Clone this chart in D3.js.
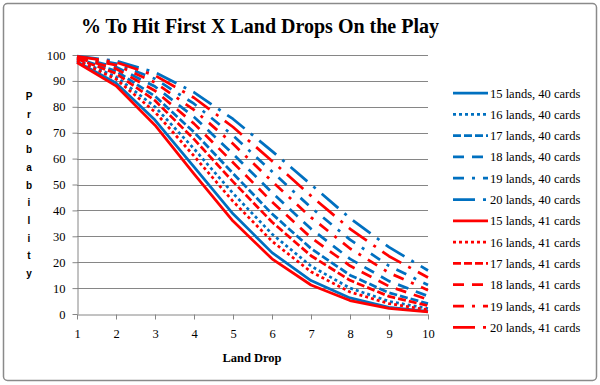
<!DOCTYPE html>
<html>
<head>
<meta charset="utf-8">
<script src="https://cdnjs.cloudflare.com/ajax/libs/d3/7.8.5/d3.min.js"></script>
<title>% To Hit First X Land Drops On the Play</title>
<style>
  body { margin: 0; background: #fff; }
  svg { display: block; }
  .serif { font-family: "Liberation Serif", Tinos, "Times New Roman", "DejaVu Serif", serif; }
  .axis text { font-family: "Liberation Serif", Tinos, "Times New Roman", "DejaVu Serif", serif; font-size: 12.5px; fill: #000; }
  .axis line, .axis path { stroke: #868686; }
  .legend text { font-family: "Liberation Serif", Tinos, "Times New Roman", "DejaVu Serif", serif; font-size: 12.5px; fill: #000; }
</style>
</head>
<body>
<script>
// categories + tick labels
var landDrops = [1, 2, 3, 4, 5, 6, 7, 8, 9, 10];
var yTicks = [0, 10, 20, 30, 40, 50, 60, 70, 80, 90, 100];

// % chance
var lands15of40 = [97.4, 89.2, 74.9, 56.8, 38.7, 23.7, 12.9, 6.2, 2.6, 1.0];
var lands16of40 = [98.1, 91.6, 80.0, 63.8, 46.6, 30.9, 18.5, 10.0, 4.9, 2.1];
var lands17of40 = [98.7, 93.8, 84.1, 70.2, 54.3, 38.7, 25.3, 15.0, 8.2, 4.0];
var lands18of40 = [99.1, 95.4, 87.8, 76.1, 61.8, 46.9, 32.9, 21.3, 12.7, 6.9];
var lands19of40 = [99.4, 96.7, 90.8, 81.2, 68.9, 55.0, 41.1, 28.7, 18.6, 11.2];
var lands20of40 = [99.6, 97.7, 93.3, 85.6, 75.3, 62.9, 50.0, 37.0, 25.8, 16.8];
var lands15of41 = [97.1, 88.1, 72.9, 54.1, 35.9, 21.3, 11.2, 5.2, 2.2, 0.8];
var lands16of41 = [97.9, 90.7, 78.0, 61.0, 43.5, 28.1, 16.3, 8.5, 4.0, 1.6];
var lands17of41 = [98.5, 92.9, 82.4, 67.5, 51.1, 35.5, 22.5, 13.0, 6.8, 3.2];
var lands18of41 = [98.9, 94.7, 86.2, 73.5, 58.5, 43.3, 29.5, 18.6, 10.7, 5.6];
var lands19of41 = [99.2, 96.1, 89.4, 78.8, 65.7, 51.2, 37.3, 25.3, 15.9, 9.2];
var lands20of41 = [99.5, 97.2, 92.1, 83.5, 72.2, 59.1, 45.6, 32.9, 22.3, 14.1];

var seriesNames = ["15 lands, 40 cards", "16 lands, 40 cards", "17 lands, 40 cards",
  "18 lands, 40 cards", "19 lands, 40 cards", "20 lands, 40 cards",
  "15 lands, 41 cards", "16 lands, 41 cards", "17 lands, 41 cards",
  "18 lands, 41 cards", "19 lands, 41 cards", "20 lands, 41 cards"];
var seriesValues = [lands15of40, lands16of40, lands17of40, lands18of40, lands19of40, lands20of40,
  lands15of41, lands16of41, lands17of41, lands18of41, lands19of41, lands20of41];

// excel-ish line styles: solid, dot, sysdash, dash, dash-dot, long dash-dot
var dashes = [null, "3,3", "8,3", "11,8", "11,8,3,8", "22,8,3,8"];
var colors = ["#0070c0", "#ff0000"];

var series = seriesNames.map(function(name, i) {
  return {
    name: name,
    values: seriesValues[i],
    color: colors[Math.floor(i / 6)],
    dash: dashes[i % 6]
  };
});

var width = 600, height = 385;
var plot = { left: 77, right: 428, top: 55, bottom: 314 };

var svg = d3.select("body").append("svg")
    .attr("width", width)
    .attr("height", height);

// chart frame
svg.append("rect")
    .attr("x", 3.5).attr("y", 3.5)
    .attr("width", 593).attr("height", 377)
    .attr("rx", 4)
    .attr("fill", "#fff")
    .attr("stroke", "#8a8a8a")
    .attr("stroke-width", 1.5);

var x = d3.scalePoint()
    .domain(landDrops)
    .range([plot.left, plot.right]);

var y = d3.scaleLinear()
    .domain([0, 100])
    .range([plot.bottom, plot.top]);

// gridlines
svg.append("g")
  .selectAll("line")
  .data(yTicks.slice(1))
  .enter().append("line")
    .attr("x1", plot.left).attr("x2", plot.right)
    .attr("y1", function(d) { return Math.round(y(d)) + 0.5; })
    .attr("y2", function(d) { return Math.round(y(d)) + 0.5; })
    .attr("stroke", "#868686")
    .attr("stroke-width", 1);

var yAxis = d3.axisLeft(y)
    .tickValues(yTicks)
    .tickSize(5)
    .tickSizeOuter(0)
    .tickPadding(7);

svg.append("g")
    .attr("class", "axis")
    .attr("transform", "translate(" + (plot.left + 0.5) + ",0)")
    .call(yAxis)
    .attr("font-family", null);

var xAxis = d3.axisBottom(x)
    .tickSize(5)
    .tickSizeOuter(0)
    .tickPadding(10);

svg.append("g")
    .attr("class", "axis")
    .attr("transform", "translate(0," + (plot.bottom + 0.5) + ")")
    .call(xAxis)
    .attr("font-family", null);

// lines
var line = d3.line()
    .x(function(d, i) { return x(landDrops[i]); })
    .y(function(d) { return y(d); });

svg.append("g")
  .selectAll("path")
  .data(series)
  .enter().append("path")
    .attr("d", function(d) { return line(d.values); })
    .attr("fill", "none")
    .attr("stroke", function(d) { return d.color; })
    .attr("stroke-width", 2.75)
    .attr("stroke-dasharray", function(d) { return d.dash; })
    .attr("stroke-linejoin", "round");

// legend
var legend = svg.append("g")
    .attr("class", "legend")
    .selectAll("g")
    .data(series)
  .enter().append("g")
    .attr("transform", function(d, i) { return "translate(453," + (93 + i * 21.3) + ")"; });

legend.append("line")
    .attr("x1", 0).attr("x2", 35)
    .attr("y1", 0).attr("y2", 0)
    .attr("stroke", function(d) { return d.color; })
    .attr("stroke-width", 2.75)
    .attr("stroke-dasharray", function(d) { return d.dash; });

legend.append("text")
    .attr("x", 37)
    .attr("y", 4.5)
    .text(function(d) { return d.name; });

// titles
svg.append("text")
    .attr("class", "serif")
    .attr("x", 260)
    .attr("y", 33)
    .attr("text-anchor", "middle")
    .style("font-weight", "bold")
    .style("font-size", "20px")
    .text("% To Hit First X Land Drops On the Play");

svg.append("text")
    .attr("class", "serif")
    .attr("x", 252)
    .attr("y", 362)
    .attr("text-anchor", "middle")
    .style("font-weight", "bold")
    .style("font-size", "12.5px")
    .text("Land Drop");

// stacked y label
svg.append("text")
    .attr("text-anchor", "middle")
    .style("font-family", "'Liberation Sans', Arial, sans-serif")
    .style("font-weight", "bold")
    .style("font-size", "10px")
  .selectAll("tspan")
  .data("Probability".split(""))
  .enter().append("tspan")
    .attr("x", 29)
    .attr("y", function(d, i) { return 100 + i * 17.7; })
    .text(function(d) { return d; });
</script>
</body>
</html>
